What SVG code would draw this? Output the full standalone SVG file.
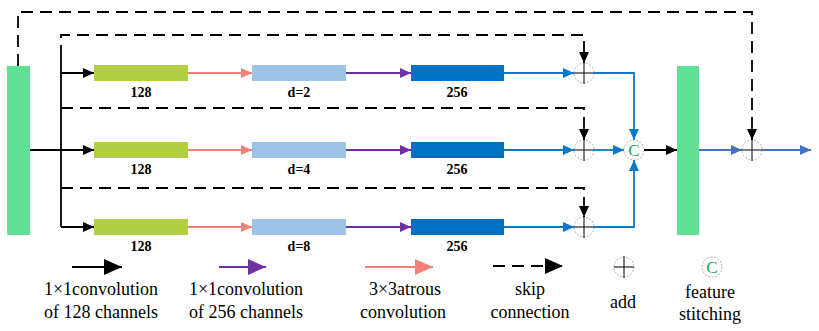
<svg xmlns="http://www.w3.org/2000/svg" width="819" height="331" viewBox="0 0 819 331">
<style>
.lbl{font-family:'Liberation Serif','Times New Roman','DejaVu Serif',serif;font-weight:bold;font-size:14px;fill:#000;text-anchor:middle}
.leg{font-family:'Liberation Serif','Times New Roman','DejaVu Serif',serif;font-size:18px;fill:#000;text-anchor:middle}
.bar{fill:#5fe094}
.b1{fill:#b2ce42}
.b2{fill:#9dc3e6}
.b3{fill:#0070c0}
.blk{stroke:#000;stroke-width:1.8;fill:none}
.dash{stroke:#000;stroke-width:1.8;fill:none;stroke-dasharray:12 7}
.pink{stroke:#f2817a;stroke-width:1.8;fill:none}
.purp{stroke:#7030a0;stroke-width:1.8;fill:none}
.blue{stroke:#0a78c8;stroke-width:1.8;fill:none}
.oblue{stroke:#4472c4;stroke-width:1.8;fill:none}
.ring{fill:#fff;stroke:#999;stroke-width:0.8;stroke-dasharray:2 1.5}
.cross{stroke:#000;stroke-width:1}
.ctxt{font-family:'Liberation Serif','Times New Roman','DejaVu Serif',serif;font-size:17px;fill:#1aa85a;text-anchor:middle}
</style>
<defs>
<marker id="mk" markerUnits="userSpaceOnUse" markerWidth="11" markerHeight="10" refX="11" refY="5" orient="auto"><path d="M0,0 L11,5 L0,10 Z" fill="#000"/></marker>
<marker id="mp" markerUnits="userSpaceOnUse" markerWidth="11" markerHeight="10" refX="11" refY="5" orient="auto"><path d="M0,0 L11,5 L0,10 Z" fill="#f2817a"/></marker>
<marker id="mu" markerUnits="userSpaceOnUse" markerWidth="11" markerHeight="10" refX="11" refY="5" orient="auto"><path d="M0,0 L11,5 L0,10 Z" fill="#7030a0"/></marker>
<marker id="mb" markerUnits="userSpaceOnUse" markerWidth="11" markerHeight="10" refX="11" refY="5" orient="auto"><path d="M0,0 L11,5 L0,10 Z" fill="#0a78c8"/></marker>
<marker id="mo" markerUnits="userSpaceOnUse" markerWidth="11" markerHeight="10" refX="11" refY="5" orient="auto"><path d="M0,0 L11,5 L0,10 Z" fill="#4472c4"/></marker>
<marker id="Lk" markerUnits="userSpaceOnUse" markerWidth="18" markerHeight="16" refX="18" refY="8" orient="auto"><path d="M0,0 L18,8 L0,16 Z" fill="#000"/></marker>
<marker id="Lu" markerUnits="userSpaceOnUse" markerWidth="18" markerHeight="16" refX="18" refY="8" orient="auto"><path d="M0,0 L18,8 L0,16 Z" fill="#7030a0"/></marker>
<marker id="Lp" markerUnits="userSpaceOnUse" markerWidth="18" markerHeight="16" refX="18" refY="8" orient="auto"><path d="M0,0 L18,8 L0,16 Z" fill="#f2817a"/></marker>
<g id="addsym"><circle class="ring" cx="0" cy="0" r="10"/><line class="cross" x1="-10" y1="0" x2="10" y2="0"/><line class="cross" x1="0" y1="-11" x2="0" y2="11"/></g>
<g id="catsym"><circle class="ring" cx="0" cy="0" r="10"/><text class="ctxt" x="0" y="6">C</text></g>
</defs>

<g id="inputBar"><rect class="bar" x="7" y="66" width="23" height="169"/></g>
<g id="outputBar"><rect class="bar" x="677" y="66" width="22" height="169"/></g>

<g id="add1"><use href="#addsym" x="584" y="73"/></g>
<g id="add2"><use href="#addsym" x="584" y="150"/></g>
<g id="add3"><use href="#addsym" x="584" y="227"/></g>
<g id="concat"><use href="#catsym" x="634" y="150"/></g>
<g id="addOut"><use href="#addsym" x="752" y="150"/></g>

<g id="connectors">
<path class="blk" d="M30,150 H94" marker-end="url(#mk)"/>
<path class="blk" d="M61,57 V227"/>
<path class="blk" d="M61,73 H94" marker-end="url(#mk)"/>
<path class="blk" d="M61,227 H94" marker-end="url(#mk)"/>
<path class="dash" d="M18,66 V12 H752 V140" marker-end="url(#mk)"/>
<path class="dash" d="M61,57 V35 H584 V63" marker-end="url(#mk)"/>
<path class="dash" d="M61,108 H584 V140" marker-end="url(#mk)"/>
<path class="dash" d="M61,188 H584 V217" marker-end="url(#mk)"/>
<path class="pink" d="M188,73 H252" marker-end="url(#mp)"/>
<path class="pink" d="M188,150 H252" marker-end="url(#mp)"/>
<path class="pink" d="M188,227 H252" marker-end="url(#mp)"/>
<path class="purp" d="M346,73 H411" marker-end="url(#mu)"/>
<path class="purp" d="M346,150 H411" marker-end="url(#mu)"/>
<path class="purp" d="M346,227 H411" marker-end="url(#mu)"/>
<path class="blue" d="M504,73 H574" marker-end="url(#mb)"/>
<path class="blue" d="M504,150 H574" marker-end="url(#mb)"/>
<path class="blue" d="M504,227 H574" marker-end="url(#mb)"/>
<path class="blue" d="M594,73 H634 V140" marker-end="url(#mb)"/>
<path class="blue" d="M594,150 H624" marker-end="url(#mb)"/>
<path class="blue" d="M594,227 H634 V160" marker-end="url(#mb)"/>
<path class="blk" d="M644,150 H677" marker-end="url(#mk)"/>
<path class="oblue" d="M699,150 H742" marker-end="url(#mo)"/>
<path class="oblue" d="M762,150 H811" marker-end="url(#mo)"/>
</g>

<g id="row1">
<rect class="b1" x="94" y="65" width="94" height="16"/><text class="lbl" x="141" y="97">128</text>
<rect class="b2" x="252" y="65" width="94" height="16"/><text class="lbl" x="299" y="97">d=2</text>
<rect class="b3" x="411" y="65" width="93" height="16"/><text class="lbl" x="457" y="97">256</text>
</g>
<g id="row2">
<rect class="b1" x="94" y="142" width="94" height="16"/><text class="lbl" x="141" y="174">128</text>
<rect class="b2" x="252" y="142" width="94" height="16"/><text class="lbl" x="299" y="174">d=4</text>
<rect class="b3" x="411" y="142" width="93" height="16"/><text class="lbl" x="457" y="174">256</text>
</g>
<g id="row3">
<rect class="b1" x="94" y="219" width="94" height="16"/><text class="lbl" x="141" y="251">128</text>
<rect class="b2" x="252" y="219" width="94" height="16"/><text class="lbl" x="299" y="251">d=8</text>
<rect class="b3" x="411" y="219" width="93" height="16"/><text class="lbl" x="457" y="251">256</text>
</g>

<g id="legend">
<path class="blk" d="M72,267 H122" marker-end="url(#Lk)"/>
<text class="leg" x="101" y="295">1×1convolution</text>
<text class="leg" x="101" y="318">of 128 channels</text>
<path class="purp" d="M219,267 H266" marker-end="url(#Lu)"/>
<text class="leg" x="246" y="295">1×1convolution</text>
<text class="leg" x="246" y="318">of 256 channels</text>
<path class="pink" d="M365,267 H433" marker-end="url(#Lp)"/>
<text class="leg" x="405" y="295">3×3atrous</text>
<text class="leg" x="403" y="318">convolution</text>
<path class="dash" d="M493,266 H563" marker-end="url(#Lk)"/>
<text class="leg" x="530" y="295">skip</text>
<text class="leg" x="530" y="318">connection</text>
<use href="#addsym" x="624" y="267"/>
<text class="leg" x="623" y="308">add</text>
<use href="#catsym" x="712" y="267"/>
<text class="leg" x="710" y="298">feature</text>
<text class="leg" x="710" y="320">stitching</text>
</g>
</svg>
